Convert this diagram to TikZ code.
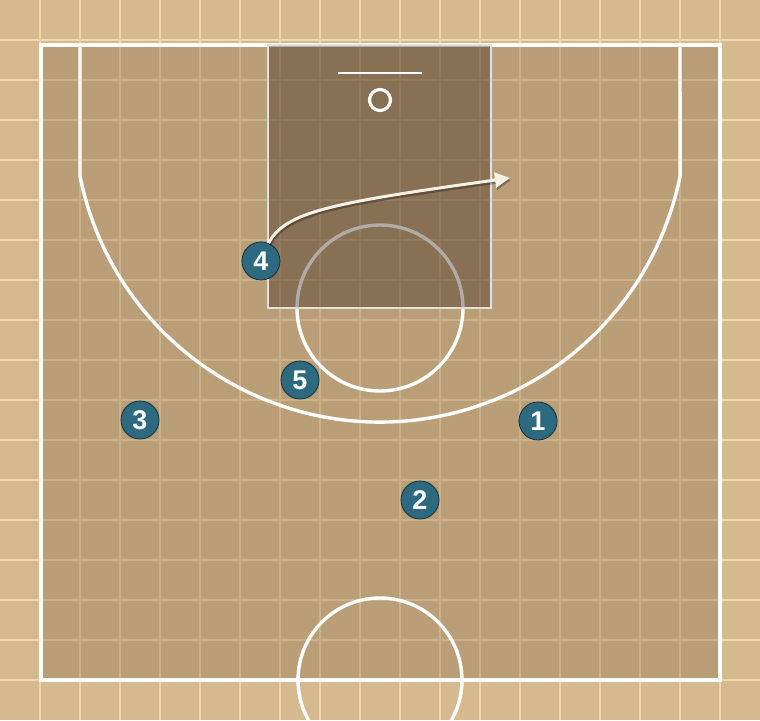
\documentclass[tikz,border=0pt]{standalone}
\usepackage{fontspec}
\setmainfont{Liberation Sans}
\usetikzlibrary{arrows.meta}
\definecolor{bgtan}{RGB}{214,186,143}
\definecolor{gridtan}{RGB}{240,214,170}
\definecolor{courtshade}{RGB}{120,95,70}
\definecolor{paintshade}{RGB}{60,45,30}
\definecolor{playerfill}{RGB}{45,106,127}
\definecolor{playerline}{RGB}{20,45,55}
\definecolor{arrowwhite}{RGB}{246,241,230}
\definecolor{paintline}{RGB}{226,224,220}
\tikzset{
  courtline/.style={draw=white, line width=3.4pt},
  gridline/.style={draw=gridtan, line width=1.1pt},
  player/.style={circle, draw=playerline, line width=0.8pt, fill=playerfill,
    minimum size=38pt, inner sep=0pt, text=white,
    font=\bfseries\fontsize{27}{27}\selectfont},
  movearrow/.style={draw=arrowwhite, line width=3pt, -{Triangle[length=15pt,width=15pt]}},
  moveshadow/.style={draw=black, opacity=0.3, line width=3.5pt, -{Triangle[length=15pt,width=15pt]}}
}
\begin{document}
\begin{tikzpicture}[x=1pt,y=-1pt]
\useasboundingbox (0,0) rectangle (760,720);
% background
\fill[bgtan] (0,0) rectangle (760,720);
\foreach \gx in {40,80,...,720} \draw[gridline] (\gx,0) -- (\gx,720);
\foreach \gy in {40,80,...,680} \draw[gridline] (0,\gy) -- (760,\gy);
% court area
\fill[courtshade, opacity=0.3] (41,45) rectangle (720,680);
% half court circle
\draw[courtline] (380,680) circle[radius=82pt];
% boundary
\draw[courtline] (41,45) rectangle (720,680);
% three point line
\draw[courtline] (80,45) -- (80,176) arc[start angle=191.3, end angle=348.7, radius=306pt] -- (680,45);
% free throw circle
\draw[courtline] (380,308) circle[radius=83pt];
% paint
\fill[paintshade, opacity=0.4] (268,45) rectangle (491,308);
\draw[draw=paintline, line width=2.2pt] (268,45) rectangle (491,308);
% backboard and rim
\draw[draw=white, line width=2.2pt] (338,73) -- (422,73);
\node[circle, draw=white, line width=3.2pt, minimum size=21pt, inner sep=0pt] (rim) at (380,100) {};
% players
\node[player] (p1) at (538,421) {1};
\node[player] (p2) at (420,500) {2};
\node[player] (p3) at (140,420) {3};
\node[player] (p4) at (261,261) {4};
\node[player] (p5) at (300,380) {5};
% movement of 4
\coordinate (cutend) at (510,178);
\coordinate (cutendsh) at (511,180);
\draw[moveshadow] ([shift={(1pt,-2pt)}]p4.67) .. controls (286,214) and (330,205) .. (cutendsh);
\draw[movearrow] (p4.67) .. controls (285,212) and (330,203) .. (cutend);
\end{tikzpicture}
\end{document}
